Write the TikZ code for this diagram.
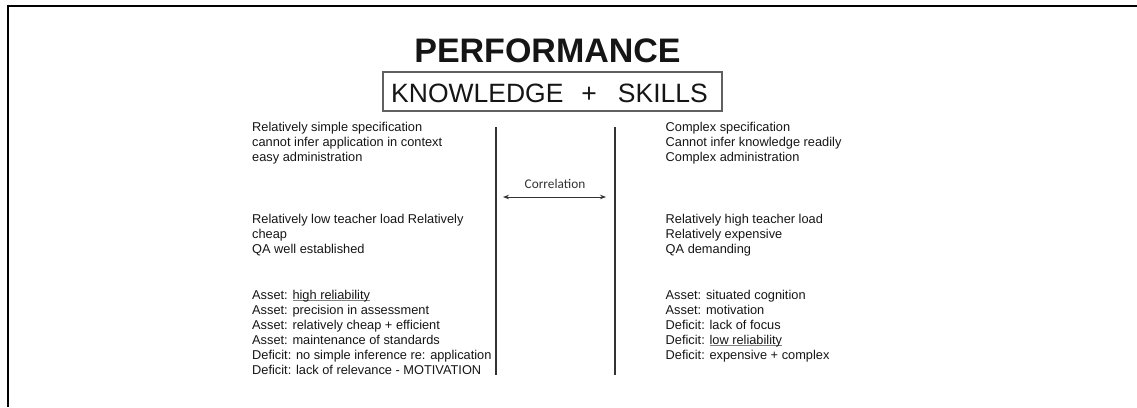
\documentclass[tikz,border=0pt]{standalone}
\usepackage{fontspec}
\setmainfont{Liberation Sans}
\newfontfamily\corrfont{Carlito}
\usetikzlibrary{arrows.meta}
\definecolor{ink}{HTML}{151515}
\definecolor{rulegray}{HTML}{333333}
\definecolor{boxgray}{HTML}{606060}
\newcommand\myul[1]{\setbox0\hbox{#1}\rlap{\color{gray}\rule[-2.2pt]{\wd0}{0.9pt}}\box0}
\tikzset{
  txt/.style={anchor=base west, inner sep=0pt, text=ink, font=\fontsize{12.8}{15}\selectfont},
  frame/.style={line width=2pt, black},
  divider/.style={line width=1.1pt, rulegray},
  corr/.style={line width=1pt, rulegray, {Stealth[length=6pt,width=4.5pt]}-{Stealth[length=6pt,width=4.5pt]}},
}
\begin{document}
\begin{tikzpicture}[x=1pt,y=-1pt]
\useasboundingbox (0,0) rectangle (1137,407);
% frame
\coordinate (fTR) at (1137,5.8);
\coordinate (fTL) at (6.5,5.8);
\coordinate (fBL) at (7.5,407);
\draw[frame] (fTR) -- (fTL);
\draw[frame] (7.5,4.8) -- (fBL);
% title
\node[anchor=base, inner sep=0pt, text=ink, font=\fontsize{34}{34}\selectfont\bfseries] (perf) at (547.5,62) {PERFORMANCE};
\node[draw=boxgray, line width=1.3pt, minimum width=339pt, minimum height=39pt, inner sep=0pt] (kbox) at (552.5,91.5) {};
\node[anchor=base west, inner sep=0pt, text=ink, font=\fontsize{26.5}{26.5}\selectfont] (ks) at (391,102) {KNOWLEDGE\hspace{18pt}+\hspace{21pt}SKILLS};
% dividers
\coordinate (l1) at (496,127); \coordinate (l2) at (496,375);
\coordinate (r1) at (615,127); \coordinate (r2) at (615,375);
\draw[divider] (l1) -- (l2);
\draw[divider] (r1) -- (r2);
\coordinate (a1) at (503,197); \coordinate (a2) at (606,197);
\draw[corr] (a1) -- (a2);
\node[inner sep=0pt, text=rulegray, font=\corrfont\fontsize{13.3}{14}\selectfont] (corrlab) at (555,184) {Correlation};
% left column
\node[txt] (la1) at (252,131) {Relatively simple specification};
\node[txt] (la2) at (252,146) {cannot infer application in context};
\node[txt] (la3) at (252,161) {easy administration};
\node[txt] (lb1) at (252,223) {Relatively low teacher load Relatively};
\node[txt] (lb2) at (252,238) {cheap};
\node[txt] (lb3) at (252,253) {QA well established};
\node[txt] (lc1) at (252,299) {Asset: \myul{high reliability}};
\node[txt] (lc2) at (252,314) {Asset: precision in assessment};
\node[txt] (lc3) at (252,329) {Asset: relatively cheap + efficient};
\node[txt] (lc4) at (252,344) {Asset: maintenance of standards};
\node[txt] (lc5) at (252,359) {Deficit: no simple inference re: application};
\node[txt] (lc6) at (252,374) {Deficit: lack of relevance - MOTIVATION};
% right column
\node[txt] (ra1) at (665.5,131) {Complex specification};
\node[txt] (ra2) at (665.5,146) {Cannot infer knowledge readily};
\node[txt] (ra3) at (665.5,161) {Complex administration};
\node[txt] (rb1) at (665.5,223) {Relatively high teacher load};
\node[txt] (rb2) at (665.5,238) {Relatively expensive};
\node[txt] (rb3) at (665.5,253) {QA demanding};
\node[txt] (rc1) at (665.5,299) {Asset: situated cognition};
\node[txt] (rc2) at (665.5,314) {Asset: motivation};
\node[txt] (rc3) at (665.5,329) {Deficit: lack of focus};
\node[txt] (rc4) at (665.5,344) {Deficit: \myul{low reliability}};
\node[txt] (rc5) at (665.5,359) {Deficit: expensive + complex};
\end{tikzpicture}
\end{document}
